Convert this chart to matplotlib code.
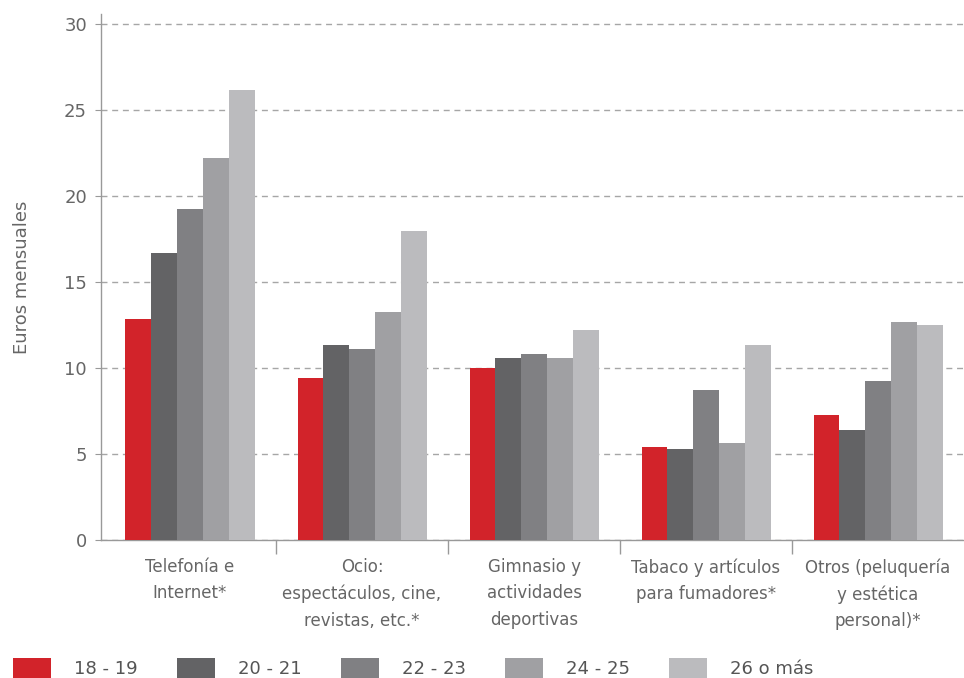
import matplotlib
matplotlib.use("Agg")
import matplotlib.pyplot as plt
import numpy as np

categories = ["Telefonía e\nInternet*", "Ocio:\nespectáculos, cine,\nrevistas, etc.*",
              "Gimnasio y\nactividades\ndeportivas", "Tabaco y artículos\npara fumadores*",
              "Otros (peluquería\ny estética\npersonal)*"]
series_names = ["18 - 19", "20 - 21", "22 - 23", "24 - 25", "26 o más"]
v_18_19 = [12.85, 9.42, 10.0, 5.41, 7.27]
v_20_21 = [16.69, 11.34, 10.58, 5.29, 6.40]
v_22_23 = [19.24, 11.10, 10.81, 8.72, 9.24]
v_24_25 = [22.20, 13.26, 10.58, 5.64, 12.67]
v_26_mas = [26.16, 17.97, 12.20, 11.34, 12.50]
yticks = [0, 5, 10, 15, 20, 25, 30]

colors = ["#D2232A", "#636365", "#808083", "#A0A0A3", "#BBBBBE"]
values = [v_18_19, v_20_21, v_22_23, v_24_25, v_26_mas]

plt.rcParams['font.family'] = ['DejaVu Sans']
W, H = 964, 678
fig = plt.figure(figsize=(W / 100, H / 100), dpi=100)
ax = fig.add_axes([101 / W, 1 - 540 / H, (964 - 101) / W, (540 - 14) / H])

x = np.arange(len(categories))
bw = 0.15
handles = []
for i, (vals, c, name) in enumerate(zip(values, colors, series_names)):
    b = ax.bar(x + (i - 2) * bw, vals, width=bw, color=c, label=name, zorder=3, linewidth=0)
    handles.append(b)

ax.set_xlim(-0.5 - 3 / 172, 4.5)
ax.set_ylim(0, 30.6)
ax.set_yticks(yticks)
ax.yaxis.grid(True, linestyle=(0, (4.3, 3.4)), color="#a6a6a6", linewidth=1, zorder=0)
ax.set_axisbelow(True)

for s in ["top", "right"]:
    ax.spines[s].set_visible(False)
for s in ["left", "bottom"]:
    ax.spines[s].set_color("#999999")
    ax.spines[s].set_linewidth(1)

ax.tick_params(axis="y", length=4, color="#999999", labelsize=13, labelcolor="#666666", pad=6)
ax.set_xticks(x)
ax.set_xticklabels(categories, fontsize=12, color="#666666", linespacing=1.6, va="top")
ax.tick_params(axis="x", which="major", length=0, pad=13)
ax.set_xticks(np.arange(0.5, 4.5, 1), minor=True)
ax.tick_params(axis="x", which="minor", length=10, color="#999999", width=1)

ax.set_ylabel("Euros mensuales", fontsize=13, color="#666666", labelpad=24)

fig.legend(handles=handles, labels=series_names, loc="lower left",
           bbox_to_anchor=(13 / W, 0.0), ncol=5, frameon=False, fontsize=13,
           handlelength=2.1, handleheight=1.35, handletextpad=1.3,
           columnspacing=2.15, borderpad=0.0, borderaxespad=0.0, labelcolor="#555555")

fig.savefig("out.png", dpi=100)
